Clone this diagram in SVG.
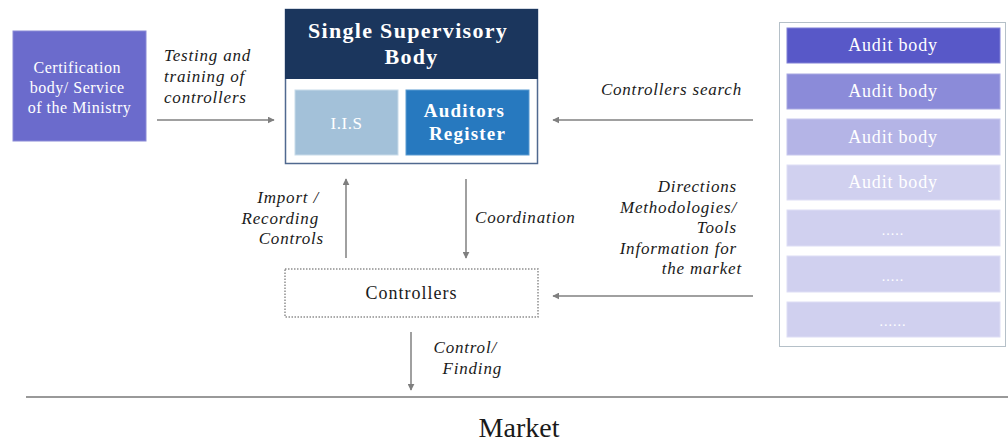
<svg xmlns="http://www.w3.org/2000/svg" width="1008" height="443" viewBox="0 0 1008 443">
  <defs>
    <marker id="arrow" viewBox="0 0 10 10" refX="9" refY="5" markerWidth="7" markerHeight="7" markerUnits="userSpaceOnUse" orient="auto">
      <path d="M0,0 L10,5 L0,10 z" fill="#7f7f7f"/>
    </marker>
    <style>
      .serif { font-family: "Liberation Serif", "Times New Roman", serif; }
      .lbl { font-family: "Liberation Serif", "Times New Roman", serif; font-style: italic; font-size: 17px; letter-spacing: 0.8px; fill: #1a1a1a; }
      .white { fill: #ffffff; }
      .conn { stroke: #808080; stroke-width: 1.5; fill: none; marker-end: url(#arrow); }
      .bar-text { font-family: "Liberation Serif", "Times New Roman", serif; font-size: 18px; letter-spacing: 0.8px; fill: #ffffff; text-anchor: middle; }
      .dots { font-family: "Liberation Serif", "Times New Roman", serif; font-size: 14px; letter-spacing: 1px; fill: #ffffff; text-anchor: middle; }
    </style>
  </defs>
  <rect width="1008" height="443" fill="#ffffff"/>

  <!-- Certification body -->
  <g id="certification">
    <rect x="13" y="31" width="133" height="110" fill="#6b6bcc" stroke="#8a8ad6" stroke-width="1"/>
    <text class="serif white" font-size="16" letter-spacing="0.5" text-anchor="middle">
      <tspan x="79.5" y="73">Certification</tspan>
      <tspan x="79.5" y="93">body/ Service</tspan>
      <tspan x="79.5" y="113">of the Ministry</tspan>
    </text>
  </g>

  <!-- Single Supervisory Body -->
  <g id="supervisory">
    <rect x="285.5" y="9.5" width="252" height="154" fill="#ffffff" stroke="#50698f" stroke-width="1.5"/>
    <rect x="285" y="9" width="253" height="70" fill="#1b365d"/>
    <text class="serif white" font-size="22" font-weight="bold" letter-spacing="1.3" text-anchor="middle">
      <tspan x="411.5" y="38">Single Supervisory</tspan>
      <tspan x="411.5" y="64">Body</tspan>
    </text>
  </g>
  <g id="iis">
    <rect x="295" y="90" width="103" height="65" fill="#a3c1d9" stroke="#c8dbe9" stroke-width="1"/>
    <text class="serif white" font-size="17" letter-spacing="0.5" text-anchor="middle" x="346.5" y="129">I.I.S</text>
  </g>
  <g id="register">
    <rect x="406" y="90" width="123" height="65" fill="#2779bf" stroke="#5a9bd1" stroke-width="1"/>
    <text class="serif white" font-size="19" font-weight="bold" letter-spacing="1.2" text-anchor="middle">
      <tspan x="467.5" y="117">Auditors</tspan>
      <tspan x="467.5" y="140">Register</tspan>
    </text>
  </g>

  <!-- Audit bodies -->
  <g id="audit-bodies">
    <rect x="779.5" y="22.5" width="226" height="324" fill="#ffffff" stroke="#b5c0c8" stroke-width="1"/>
  </g>
  <g id="audit-1">
    <rect x="787" y="28" width="213" height="35" fill="#5858c8" stroke="#8080d6" stroke-width="1"/>
    <text class="bar-text" x="893" y="51">Audit body</text>
  </g>
  <g id="audit-2">
    <rect x="787" y="74" width="213" height="35" fill="#8b8bd9" stroke="#a8a8e2" stroke-width="1"/>
    <text class="bar-text" x="893" y="97">Audit body</text>
  </g>
  <g id="audit-3">
    <rect x="787" y="119" width="213" height="36" fill="#b4b4e6" stroke="#c8c8ee" stroke-width="1"/>
    <text class="bar-text" x="893" y="143">Audit body</text>
  </g>
  <g id="audit-4">
    <rect x="787" y="165" width="213" height="35" fill="#d0d0ef" stroke="#dedef5" stroke-width="1"/>
    <text class="bar-text" x="893" y="188">Audit body</text>
  </g>
  <g id="audit-5">
    <rect x="787" y="210" width="213" height="36" fill="#d0d0ef" stroke="#dedef5" stroke-width="1"/>
    <text class="dots" x="893" y="235">.....</text>
  </g>
  <g id="audit-6">
    <rect x="787" y="256" width="213" height="36" fill="#d0d0ef" stroke="#dedef5" stroke-width="1"/>
    <text class="dots" x="893" y="281">.....</text>
  </g>
  <g id="audit-7">
    <rect x="787" y="302" width="213" height="35" fill="#d0d0ef" stroke="#dedef5" stroke-width="1"/>
    <text class="dots" x="893" y="326">......</text>
  </g>

  <!-- Controllers -->
  <g id="controllers">
    <rect x="285" y="269" width="253" height="48" fill="#ffffff" stroke="#8f8f8f" stroke-width="1.5" stroke-dasharray="1.5,1.5"/>
    <text class="serif" font-size="18" letter-spacing="1" fill="#1a1a1a" text-anchor="middle" x="411.5" y="299">Controllers</text>
  </g>

  <!-- Market -->
  <g id="market">
    <line x1="26" y1="397" x2="1008" y2="397" stroke="#999999" stroke-width="2"/>
    <text class="serif" font-size="28" fill="#1a1a1a" text-anchor="middle" x="519" y="437">Market</text>
  </g>

  <!-- Connectors -->
  <g id="connectors">
    <line class="conn" x1="157" y1="120" x2="274" y2="120"/>
    <line class="conn" x1="753" y1="120" x2="553" y2="120"/>
    <line class="conn" x1="346" y1="258" x2="346" y2="179"/>
    <line class="conn" x1="466" y1="179" x2="466" y2="258"/>
    <line class="conn" x1="753" y1="296" x2="553" y2="296"/>
    <line class="conn" x1="411" y1="332" x2="411" y2="390"/>
  </g>

  <!-- Connector labels -->
  <g id="labels">
    <text class="lbl">
      <tspan x="164" y="61">Testing and</tspan>
      <tspan x="164" y="82">training of</tspan>
      <tspan x="164" y="103">controllers</tspan>
    </text>
    <text class="lbl" text-anchor="end" x="742" y="95">Controllers search</text>
    <text class="lbl" text-anchor="end">
      <tspan x="324" y="203">Import /</tspan>
      <tspan x="324" y="224">Recording</tspan>
      <tspan x="324" y="244">Controls</tspan>
    </text>
    <text class="lbl" x="475" y="223">Coordination</text>
    <text class="lbl" text-anchor="end">
      <tspan x="742" y="192">Directions</tspan>
      <tspan x="742" y="213">Methodologies/</tspan>
      <tspan x="742" y="233">Tools</tspan>
      <tspan x="742" y="254">Information for</tspan>
      <tspan x="742" y="274">the market</tspan>
    </text>
    <text class="lbl" text-anchor="end">
      <tspan x="502" y="353">Control/</tspan>
      <tspan x="502" y="374">Finding</tspan>
    </text>
  </g>
</svg>
